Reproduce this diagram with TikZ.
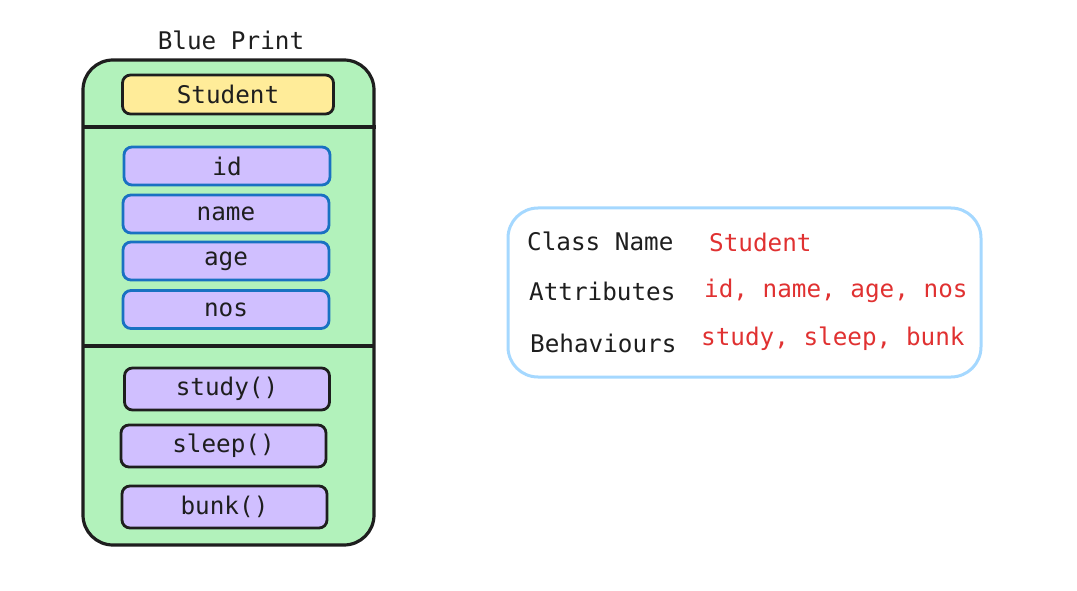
\documentclass[tikz,border=0pt]{standalone}
\usepackage{fontspec}
\setmainfont{DejaVu Sans Mono}
\definecolor{ink}{HTML}{1E1E1E}
\definecolor{boxgreen}{HTML}{B2F2BB}
\definecolor{boxyellow}{HTML}{FFEC99}
\definecolor{boxviolet}{HTML}{D0BFFF}
\definecolor{strokeblue}{HTML}{1971C2}
\definecolor{lightblue}{HTML}{A5D8FF}
\definecolor{txtred}{HTML}{E03131}
\tikzset{
  every node/.style={font=\fontsize{24.3}{27}\selectfont, text=ink},
  fieldbox/.style={draw=strokeblue, fill=boxviolet, line width=2.8pt, rounded corners=8pt,
    minimum width=206pt, minimum height=38pt, inner sep=0pt},
  methodbox/.style={draw=ink, fill=boxviolet, line width=2.8pt, rounded corners=8pt,
    minimum width=205pt, minimum height=42pt, inner sep=0pt},
  titlebox/.style={draw=ink, fill=boxyellow, line width=2.8pt, rounded corners=8pt,
    minimum width=211pt, minimum height=39pt, inner sep=0pt},
  lbl/.style={anchor=west, inner sep=0pt},
  val/.style={anchor=west, inner sep=0pt, text=txtred},
}
\begin{document}
\begin{tikzpicture}[x=1pt,y=-1pt]
\useasboundingbox (0,0) rectangle (1077,591);
% outer class box
\draw[draw=ink, fill=boxgreen, line width=3.2pt, rounded corners=30pt]
  (83,60) rectangle (374,545);
\coordinate (d1l) at (83,127); \coordinate (d1r) at (376,127);
\coordinate (d2l) at (83,346); \coordinate (d2r) at (374,346);
\draw[ink, line width=3.2pt] (d1l) -- (d1r);
\draw[ink, line width=3.2pt] (d2l) -- (d2r);
\node (bp) at (231,40) {Blue Print};
\node[titlebox] (student) at (228,94.5) {Student};
\node[fieldbox] (id) at (227,166) {id};
\node[fieldbox] (name) at (226,214) {name};
\node[fieldbox] (age) at (226,261) {age};
\node[fieldbox] (nos) at (226,309.5) {nos};
\node[methodbox] (study) at (227,389) {study()};
\node[methodbox] (sleep) at (223.5,446) {sleep()};
\node[methodbox] (bunk) at (224.5,507) {bunk()};
% summary box
\draw[draw=lightblue, line width=3pt, rounded corners=30pt]
  (508,208) rectangle (981,377);
\node[lbl] (cn) at (527,241) {Class Name};
\node[val] (cnv) at (709,242) {Student};
\node[lbl] (at) at (529,291) {Attributes};
\node[val] (atv) at (704,291) {id, name, age, nos};
\node[lbl] (be) at (530,343) {Behaviours};
\node[val] (bev) at (701,339) {study, sleep, bunk};
\end{tikzpicture}
\end{document}
